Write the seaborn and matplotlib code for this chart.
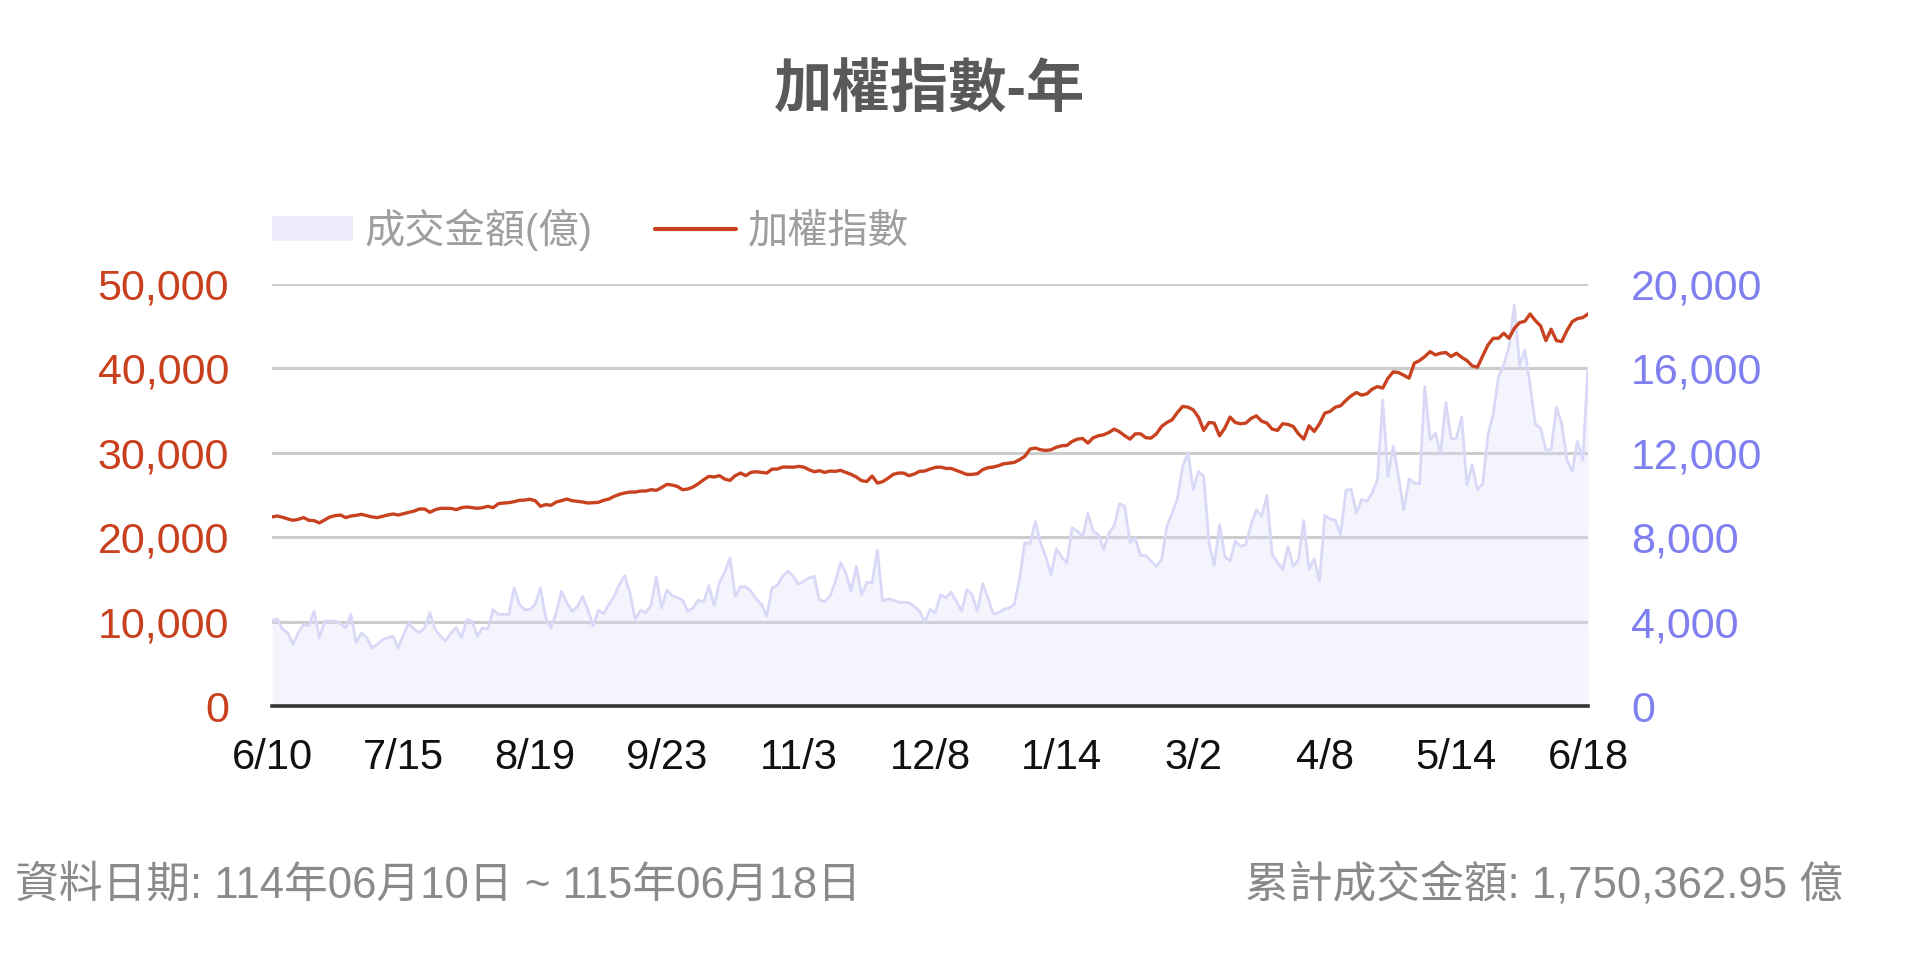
import numpy as np
import pandas as pd
import matplotlib
matplotlib.use("Agg")
import matplotlib.pyplot as plt
import seaborn as sns
from matplotlib import font_manager
from matplotlib.lines import Line2D
from matplotlib.patches import Patch
from matplotlib.ticker import FuncFormatter

# ---------------- data ----------------
tick_labels = ["6/10", "7/15", "8/19", "9/23", "11/3", "12/8", "1/14", "3/2", "4/8", "5/14", "6/18"]
tick_step = 25  # trading days between labelled dates

index_values = [
    22400, 22510, 22360, 22160, 22000, 22120, 22320, 22000, 21960, 21690,
    22040, 22400, 22550, 22630, 22320, 22510, 22590, 22710, 22550, 22400,
    22320, 22480, 22630, 22750, 22630, 22790, 22950, 23100, 23340, 23340,
    22950, 23260, 23420, 23420, 23420, 23260, 23500, 23580, 23500, 23420,
    23500, 23660, 23500, 23970, 24050, 24090, 24210, 24370, 24400, 24490,
    24330, 23660, 23860, 23780, 24170, 24330, 24520, 24330, 24250, 24170,
    24050, 24090, 24130, 24370, 24520, 24840, 25080, 25240, 25350, 25350,
    25470, 25470, 25630, 25550, 25870, 26260, 26180, 26020, 25630, 25710,
    25950, 26340, 26810, 27210, 27130, 27290, 26890, 26730, 27290, 27600,
    27290, 27680, 27760, 27680, 27600, 28070, 28070, 28310, 28310, 28290,
    28390, 28310, 28000, 27760, 27880, 27680, 27840, 27800, 27920, 27680,
    27440, 27130, 26700, 26600, 27250, 26420, 26580, 26970, 27440, 27600,
    27600, 27290, 27480, 27800, 27840, 28070, 28270, 28310, 28150, 28150,
    27920, 27680, 27440, 27440, 27520, 28000, 28230, 28310, 28470, 28700,
    28780, 28860, 29180, 29570, 30440, 30560, 30360, 30280, 30360, 30660,
    30830, 30870, 31350, 31620, 31700, 31150, 31780, 32020, 32140, 32410,
    32810, 32490, 32020, 31620, 32250, 32250, 31780, 31740, 32250, 33120,
    33590, 33910, 34780, 35490, 35410, 35090, 34230, 32650, 33590, 33520,
    32020, 32920, 34230, 33590, 33440, 33520, 34070, 34380, 33750, 33520,
    32810, 32650, 33440, 33360, 33120, 32250, 31620, 33200, 32530, 33440,
    34700, 34900, 35410, 35570, 36200, 36750, 37140, 36830, 36990, 37540,
    37850, 37660, 38840, 39590, 39510, 39190, 38840, 40610, 40930, 41400,
    41990, 41600, 41800, 41880, 41400, 41800, 41320, 40930, 40300, 40140,
    41480, 42780, 43570, 43570, 44160, 43570, 44750, 45420, 45580, 46450,
    45660, 45030, 43290, 44640, 43290, 43180, 44480, 45540, 45900, 46020,
    46450,
]

volume_values = [
    4070, 4130, 3630, 3470, 2920, 3470, 3860, 3790, 4490, 3230,
    4020, 4020, 4020, 3910, 3710, 4340, 3000, 3470, 3230, 2760,
    2920, 3150, 3230, 3310, 2760, 3390, 3940, 3630, 3470, 3710,
    4420, 3630, 3310, 3080, 3470, 3710, 3230, 4100, 4020, 3310,
    3710, 3630, 4570, 4340, 4340, 4340, 5600, 4810, 4570, 4570,
    4810, 5600, 4180, 3710, 4420, 5440, 4890, 4490, 4700, 5200,
    4570, 3790, 4540, 4370, 4810, 5200, 5760, 6180, 5360, 4100,
    4540, 4420, 4760, 6120, 4650, 5490, 5240, 5130, 5020, 4490,
    4650, 5020, 4920, 5710, 4760, 5840, 6340, 7020, 5200, 5650,
    5650, 5440, 5080, 4810, 4260, 5600, 5710, 6150, 6390, 6150,
    5760, 5910, 6070, 6150, 5020, 4950, 5200, 5870, 6810, 6310,
    5440, 6620, 5270, 5870, 5840, 7380, 4970, 5080, 5020, 4920,
    4920, 4890, 4730, 4490, 3970, 4570, 4420, 5280, 5130, 5390,
    4970, 4490, 5520, 5280, 4490, 5800, 5130, 4370, 4420, 4570,
    4650, 4810, 5990, 7730, 7700, 8750, 7730, 7070, 6230, 7450,
    7070, 6780, 8440, 8280, 8040, 9120, 8280, 8120, 7410, 8200,
    8550, 9590, 9460, 7730, 7960, 7130, 7130, 6860, 6620, 6940,
    8520, 9150, 9830, 11350, 12020, 10250, 11120, 10880, 7730, 6660,
    8600, 7100, 6860, 7810, 7570, 7650, 8600, 9300, 8990, 9970,
    7180, 6810, 6470, 7570, 6620, 6940, 8800, 6470, 6970, 5910,
    9030, 8870, 8800, 8120, 10220, 10280, 9150, 9780, 9700, 10090,
    10720, 14510, 10880, 12300, 10880, 9300, 10760, 10570, 10530, 15140,
    12620, 12930, 11990, 14380, 12650, 12700, 13690, 10490, 11430, 10250,
    10530, 12850, 13850, 15580, 16160, 17030, 19000, 16160, 16870, 15220,
    13330, 13170, 12140, 12140, 14160, 13400, 11670, 11120, 12540, 11670,
    16050,
]

index_ticks = [0, 10000, 20000, 30000, 40000, 50000]
volume_ticks = [0, 4000, 8000, 12000, 16000, 20000]

title_text = "加權指數-年"
legend_labels = ["成交金額(億)", "加權指數"]
footer_left = "資料日期: 114年06月10日 ~ 115年06月18日"
footer_right = "累計成交金額: 1,750,362.95 億"

# ---------------- style ----------------
RED = "#c8421f"
RED_LABEL = "#c8401e"
PURPLE_LINE = "#d9d9f7"
PURPLE_FILL = "#dedefa"
PURPLE_LABEL = "#7f7ff0"

sns.set_theme(style="white")
available = {f.name for f in font_manager.fontManager.ttflist}
latin = "Liberation Sans" if "Liberation Sans" in available else "DejaVu Sans"
plt.rcParams["font.family"] = [latin, "Noto Sans CJK TC", "DejaVu Sans"]

df = pd.DataFrame({
    "day": np.arange(len(index_values)),
    "index": index_values,
    "volume": volume_values,
})

W, H = 1920, 960
fig = plt.figure(figsize=(W / 100, H / 100), dpi=100)
left_px, right_px, top_px, bottom_px = 272, 1588, 284, 706
ax_v = fig.add_axes([left_px / W, 1 - bottom_px / H, (right_px - left_px) / W, (bottom_px - top_px) / H])
ax_i = ax_v.twinx()

# volume area (right axis)
ax_v.fill_between(df["day"], df["volume"], 0, color=PURPLE_FILL, alpha=0.33, lw=0, zorder=1)
sns.lineplot(data=df, x="day", y="volume", ax=ax_v, color=PURPLE_LINE, lw=2.0, zorder=2)

# index line (left axis)
sns.lineplot(data=df, x="day", y="index", ax=ax_i, color=RED, lw=2.4, zorder=3)

n = len(df)
ax_v.set_xlim(0, n - 1)
ax_v.set_ylim(0, 20000)
ax_i.set_ylim(0, 50000)
ax_v.set_xticks(np.arange(0, n, tick_step))
ax_v.set_xticklabels(tick_labels)
ax_v.set_yticks(volume_ticks)
ax_i.set_yticks(index_ticks)

fmt = FuncFormatter(lambda v, p: f"{int(v):,}")
ax_v.yaxis.set_major_formatter(fmt)
ax_i.yaxis.set_major_formatter(fmt)

ax_v.yaxis.tick_right()
ax_i.yaxis.tick_left()

for a in (ax_v, ax_i):
    a.set_xlabel("")
    a.set_ylabel("")
    for s in a.spines.values():
        s.set_visible(False)

ax_v.spines["bottom"].set_visible(True)
ax_v.spines["bottom"].set_color("#333333")
ax_v.spines["bottom"].set_linewidth(2.6)

ax_v.grid(axis="y", color="#cccccc", lw=2.2)
ax_v.grid(axis="x", visible=False)
ax_v.set_axisbelow(True)
ax_i.grid(False)

ax_v.tick_params(axis="x", length=0, pad=23, labelsize=30, labelcolor="#111111")
ax_v.tick_params(axis="y", length=0, pad=31, labelsize=31, labelcolor=PURPLE_LABEL,
                 left=False, right=True, labelleft=False, labelright=True)
ax_i.tick_params(axis="y", length=0, pad=31, labelsize=31, labelcolor=RED_LABEL,
                 left=True, right=False, labelleft=True, labelright=False)

# legend
handles = [
    Patch(facecolor="#ededfb", edgecolor="none"),
    Line2D([], [], color=RED, lw=3),
]
ax_i.legend(handles, legend_labels, loc="center left", bbox_to_anchor=(0, 1.129),
            ncol=2, frameon=False, fontsize=29, handlelength=2.0, handleheight=0.6,
            handletextpad=0.3, columnspacing=1.55, borderpad=0, borderaxespad=0,
            labelcolor="#9e9e9e")

# title and footer
fig.text((left_px + right_px) / 2 / W, 1 - 92 / H, title_text, ha="center", va="center",
         fontsize=42, fontweight="bold", color="#595959")
fig.text(15 / W, 1 - 886 / H, footer_left, ha="left", va="center", fontsize=31.5, color="#8a8a8a")
fig.text(1843 / W, 1 - 886 / H, footer_right, ha="right", va="center", fontsize=31.5, color="#8a8a8a")

fig.savefig("out.png", dpi=100, facecolor="white")
